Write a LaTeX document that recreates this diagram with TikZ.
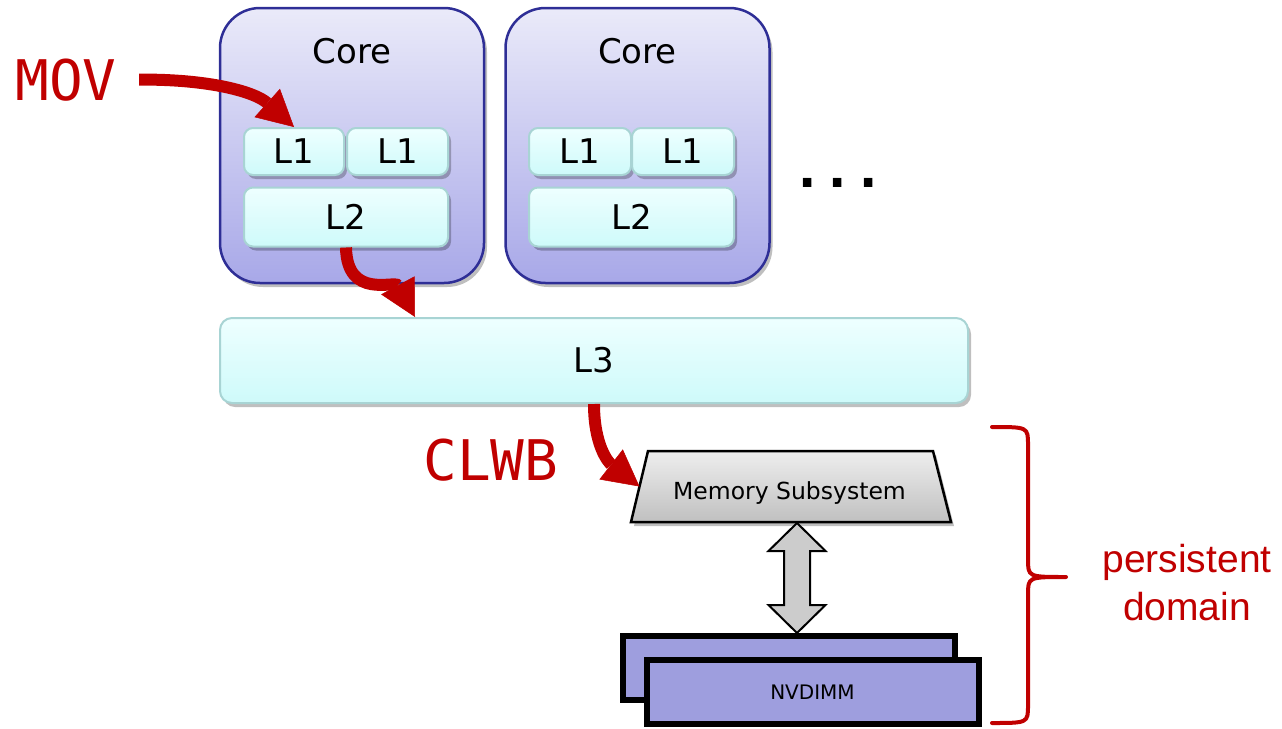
\documentclass[tikz,border=0pt]{standalone}
\usepackage{fontspec}
\setmainfont{DejaVu Sans}
\newfontfamily\monofont{DejaVu Sans Mono}
\newfontfamily\arialfont{Liberation Sans}
\usetikzlibrary{arrows.meta,shadows,calc}
\definecolor{pmred}{RGB}{192,0,0}
\definecolor{coretop}{RGB}{234,234,249}
\definecolor{corebot}{RGB}{168,168,232}
\definecolor{coreedge}{RGB}{46,46,150}
\definecolor{cachetop}{RGB}{238,255,255}
\definecolor{cachebot}{RGB}{206,250,250}
\definecolor{cacheedge}{RGB}{168,212,212}
\definecolor{memtop}{RGB}{238,238,238}
\definecolor{membot}{RGB}{192,192,192}
\definecolor{nvfill}{RGB}{158,158,222}
\definecolor{darrowfill}{RGB}{204,204,204}
\begin{document}
\begin{tikzpicture}[x=1pt,y=-1pt,
  softshadow/.style={drop shadow={shadow xshift=3pt,shadow yshift=-4pt,opacity=0.25,fill=black}},
  corebox/.style={draw=coreedge,line width=2.5pt,rounded corners=40pt,top color=coretop,bottom color=corebot,
    softshadow,minimum width=264pt,minimum height=275pt,inner sep=0pt},
  corelbl/.style={anchor=base,font=\fontsize{34}{40}\selectfont,inner sep=0pt},
  cachebox/.style={draw=cacheedge,line width=2pt,rounded corners=9pt,top color=cachetop,bottom color=cachebot,
    softshadow,inner sep=0pt,font=\fontsize{34}{40}\selectfont},
  memshape/.style={draw=black,line width=2.5pt,line join=miter,top color=memtop,bottom color=membot,softshadow},
  nvbox/.style={draw=black,line width=6pt,fill=nvfill,minimum width=332pt,minimum height=64pt,inner sep=0pt,
    font=\fontsize{20}{24}\selectfont},
  redmono/.style={font=\monofont\fontsize{56}{60}\selectfont,text=pmred},
  redarrow/.style={draw=pmred,line width=12pt,-{Triangle[length=36pt,width=38pt,line width=0.5pt]}},
  twowayarrow/.style={draw=black,line width=2pt,fill=darrowfill,line join=miter},
  bracestyle/.style={draw=pmred,line width=4pt,line cap=round,line join=round}
]
\useasboundingbox (0,0) rectangle (1282,728);

% cores
\node[corebox] (core1) at (352,145.5) {};
\node[corebox] (core2) at (637.5,145.5) {};
\node[corelbl] (core1t) at (352,63) {Core};
\node[corelbl] (core2t) at (637.5,63) {Core};

% caches core 1
\node[cachebox,minimum width=100pt,minimum height=47pt] (l1a) at (294,151.5) {L1};
\node[cachebox,minimum width=101pt,minimum height=47pt] (l1b) at (397.5,151.5) {L1};
\node[cachebox,minimum width=204pt,minimum height=59pt] (l2a) at (346,217) {L2};
% caches core 2
\node[cachebox,minimum width=102pt,minimum height=47pt] (l1c) at (580,151.5) {L1};
\node[cachebox,minimum width=102pt,minimum height=47pt] (l1d) at (683,151.5) {L1};
\node[cachebox,minimum width=205pt,minimum height=59pt] (l2b) at (631.5,217) {L2};

% dots
\node[anchor=base,inner sep=0pt,font=\bfseries\fontsize{48}{50}\selectfont] (dots) at (838,187) {.\kern12pt.\kern12pt.};

% L3
\node[cachebox,rounded corners=12pt,minimum width=748pt,minimum height=85pt] (l3) at (594,360.5) {L3};

% memory subsystem
\path[memshape] (648,451) -- (933,451) -- (951,522) -- (631,522) -- cycle;
\node[anchor=base,inner sep=0pt,font=\fontsize{23.5}{26}\selectfont] (memt) at (789.5,499) {Memory Subsystem};
\coordinate (memleft) at (639.5,486.5);
\coordinate (membottom) at (797,523);

% NVDIMMs
\node[nvbox] (nvb) at (788.5,668) {};
\node[nvbox] (nvf) at (812.5,692) {NVDIMM};

% double arrow
\coordinate (dat) at (membottom);
\coordinate (dab) at (797,0 |- nvb.north);
\draw[twowayarrow] (dat) -- ++(28.5,28) -- ++(-15.5,0) -- ($(dab)+(13,-28)$) -- ++(15.5,0) -- (dab)
  -- ++(-28.5,-28) -- ++(15.5,0) -- ($(dat)+(-13,28)$) -- ++(-15.5,0) -- cycle;

% labels
\node[redmono,anchor=base] (mov) at (66,100) {MOV};
\node[redmono,anchor=base] (clwb) at (491,480) {CLWB};

% red arrows
\draw[redarrow] ($(mov.east)+(19,0)$) .. controls (210,79) and (255,92) .. (l1a.north);
\draw[redarrow] (l2a.south) .. controls (347,300) and (395,280) .. (415,0 |- l3.north);
\draw[redarrow] (l3.south) .. controls (594,445) and (608,462) .. (memleft);

% brace
\coordinate (bracetip) at (1066,577);
\draw[bracestyle] (992,427) .. controls (1028,427) and (1028,427) .. (1028,445) -- (1028,559)
  .. controls (1028,577) and (1028,577) .. (bracetip)
  .. controls (1028,577) and (1028,577) .. (1028,595) -- (1028,705)
  .. controls (1028,723) and (1028,723) .. (992,723);

\node[align=center,anchor=base,text=pmred,font=\arialfont\fontsize{39}{48}\selectfont] (pd) at (1187,620) {persistent\\domain};
\end{tikzpicture}
\end{document}
